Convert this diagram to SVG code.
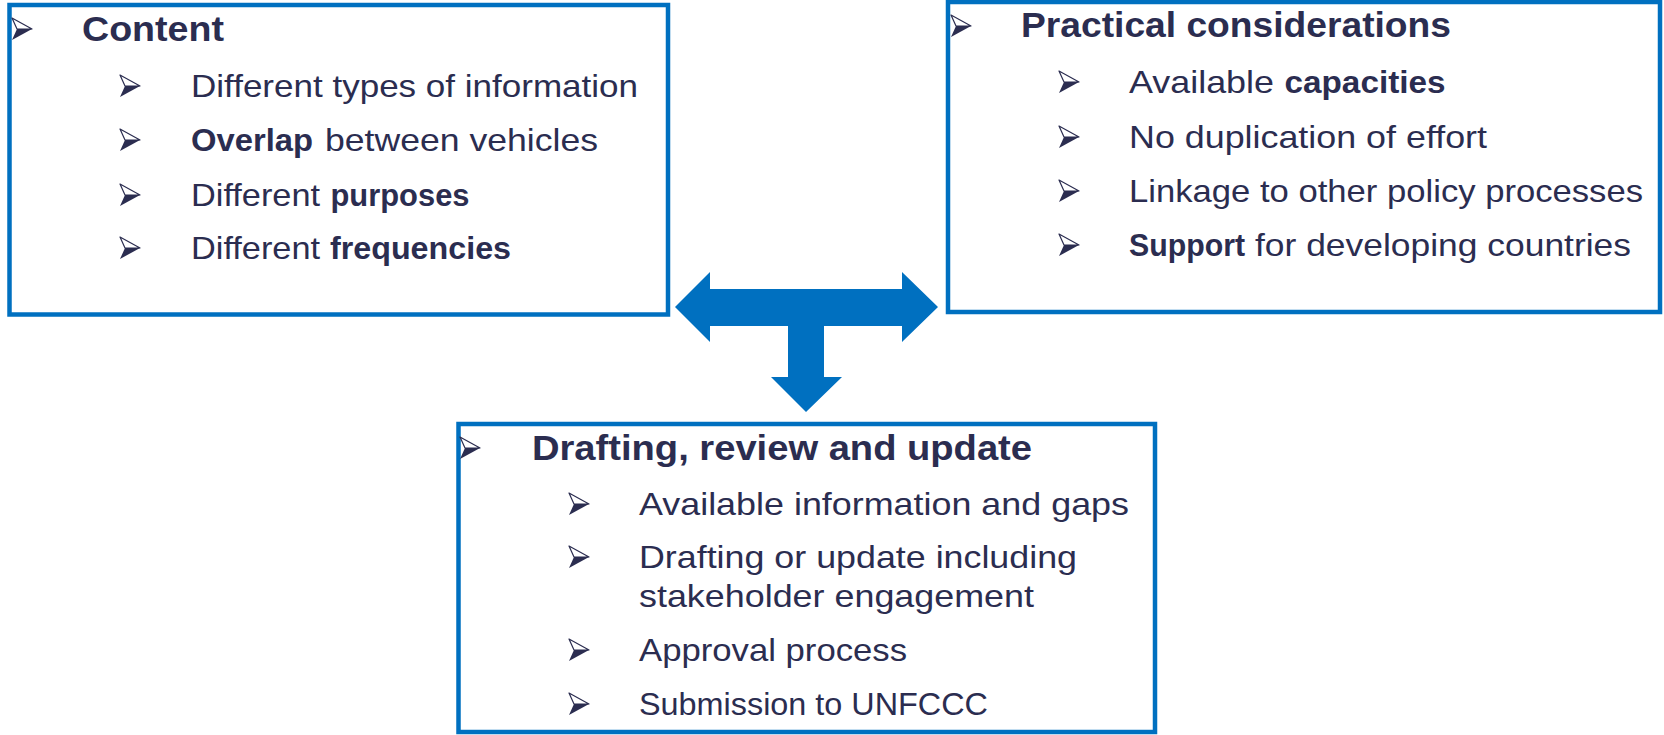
<svg xmlns="http://www.w3.org/2000/svg" width="1664" height="735" viewBox="0 0 1664 735">
<style>
.box{fill:#FFFFFF;stroke:#0070C0;stroke-width:4.5}
.t{font-family:"Liberation Sans",Arial,sans-serif;font-size:32px;fill:#2B2D50}
.h{font-family:"Liberation Sans",Arial,sans-serif;font-size:35px;font-weight:bold;fill:#2B2D50}
.b{font-weight:bold}
.conn{fill:#0070C0}
</style>
<defs>
<g id="bul">
<path d="M0,-22 L20,-11 L5,-11 Z" fill="#FFFFFF" stroke="#2B2D50" stroke-width="1.2" stroke-linejoin="round"/>
<path d="M5,-11 L20,-11 L0,0 Z" fill="#2B2D50"/>
</g>
</defs>
<rect width="1664" height="735" fill="#FFFFFF"/>
<g id="content">
<rect class="box" x="9.5" y="5" width="658.5" height="309.5"/>
<use href="#bul" x="12" y="40"/>
<text class="h" x="82" y="41" textLength="142" lengthAdjust="spacingAndGlyphs">Content</text>
<use href="#bul" x="120" y="97"/>
<text class="t" x="191" y="97" textLength="447" lengthAdjust="spacingAndGlyphs">Different types of information</text>
<use href="#bul" x="120" y="151"/>
<text class="t b" x="191" y="151" textLength="122" lengthAdjust="spacingAndGlyphs">Overlap</text>
<text class="t" x="325" y="151" textLength="273" lengthAdjust="spacingAndGlyphs">between vehicles</text>
<use href="#bul" x="120" y="206"/>
<text class="t" x="191" y="206" textLength="129" lengthAdjust="spacingAndGlyphs">Different</text>
<text class="t b" x="330.5" y="206" textLength="139" lengthAdjust="spacingAndGlyphs">purposes</text>
<use href="#bul" x="120" y="259"/>
<text class="t" x="191" y="259" textLength="129" lengthAdjust="spacingAndGlyphs">Different</text>
<text class="t b" x="330" y="259" textLength="181" lengthAdjust="spacingAndGlyphs">frequencies</text>
</g>
<g id="practical">
<rect class="box" x="948" y="2" width="712" height="310"/>
<use href="#bul" x="951" y="37"/>
<text class="h" x="1021" y="37" textLength="430" lengthAdjust="spacingAndGlyphs">Practical considerations</text>
<use href="#bul" x="1059" y="93"/>
<text class="t" x="1129" y="93" textLength="145" lengthAdjust="spacingAndGlyphs">Available</text>
<text class="t b" x="1284.5" y="93" textLength="161" lengthAdjust="spacingAndGlyphs">capacities</text>
<use href="#bul" x="1059" y="148"/>
<text class="t" x="1129" y="148" textLength="358" lengthAdjust="spacingAndGlyphs">No duplication of effort</text>
<use href="#bul" x="1059" y="202"/>
<text class="t" x="1129" y="202" textLength="514" lengthAdjust="spacingAndGlyphs">Linkage to other policy processes</text>
<use href="#bul" x="1059" y="256"/>
<text class="t b" x="1129" y="256" textLength="116" lengthAdjust="spacingAndGlyphs">Support</text>
<text class="t" x="1255" y="256" textLength="376" lengthAdjust="spacingAndGlyphs">for developing countries</text>
</g>
<g id="drafting">
<rect class="box" x="458.5" y="424" width="696.5" height="308"/>
<use href="#bul" x="460" y="459"/>
<text class="h" x="532" y="460" textLength="500" lengthAdjust="spacingAndGlyphs">Drafting, review and update</text>
<use href="#bul" x="569" y="515"/>
<text class="t" x="639" y="515" textLength="490" lengthAdjust="spacingAndGlyphs">Available information and gaps</text>
<use href="#bul" x="569" y="568"/>
<text class="t" x="639" y="568" textLength="438" lengthAdjust="spacingAndGlyphs">Drafting or update including</text>
<text class="t" x="639" y="607" textLength="395" lengthAdjust="spacingAndGlyphs">stakeholder engagement</text>
<use href="#bul" x="569" y="661"/>
<text class="t" x="639" y="661" textLength="268" lengthAdjust="spacingAndGlyphs">Approval process</text>
<use href="#bul" x="569" y="715"/>
<text class="t" x="639" y="715" textLength="349" lengthAdjust="spacingAndGlyphs">Submission to UNFCCC</text>
</g>
<g id="connectors">
<polygon class="conn" points="675,307 710,272 710,289 902,289 902,272 938,307 902,342 902,326 824,326 824,377 842,377 806,412 771,377 788,377 788,326 710,326 710,342"/>
</g>
</svg>
